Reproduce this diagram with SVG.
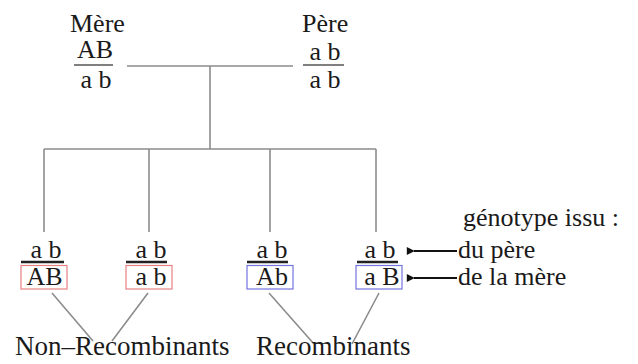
<svg xmlns="http://www.w3.org/2000/svg" width="638" height="364" viewBox="0 0 638 364">
<defs>
<style>
text{font-family:"Liberation Serif","Times New Roman",serif;font-size:26px;fill:#1a1a1a}
.c{text-anchor:middle}
.conn{stroke:#8c8c8c;stroke-width:1.6;fill:none}
.frac{stroke:#222;stroke-width:2.4}
.pfrac{stroke:#555;stroke-width:1.4}
.red{fill:none;stroke:#e88080;stroke-width:1.2}
.blue{fill:none;stroke:#7474e0;stroke-width:1.2}
.arr{stroke:#111;stroke-width:2}
</style>
<marker id="ah" viewBox="0 0 10 10" refX="1" refY="5" markerWidth="10" markerHeight="8" markerUnits="userSpaceOnUse" orient="auto-start-reverse">
<path d="M0,5 L10,0 L10,10 Z" fill="#111"/>
</marker>
</defs>
<g id="connectors">
<path class="conn" d="M127,66 H293 M210,66 V149 M44,149 H376 M44,149 V232 M149,149 V232 M270,149 V232 M376,149 V232"/>
<path class="conn" d="M52,293 L93,341 M148,293 L112,341 M269,293 L314,344 M379,293 L352,344"/>
<line class="arr" x1="457" y1="251" x2="414" y2="251" marker-end="url(#ah)"/>
<line class="arr" x1="457" y1="278" x2="414" y2="278" marker-end="url(#ah)"/>
</g>
<g id="mere">
<text x="70" y="32">Mère</text>
<text class="c" x="95" y="58">AB</text>
<line class="pfrac" x1="74" y1="65" x2="113" y2="65"/>
<text class="c" x="96" y="88">a b</text>
</g>
<g id="pere">
<text x="302" y="32">Père</text>
<text class="c" x="325" y="60">a b</text>
<line class="pfrac" x1="303" y1="65" x2="344" y2="65"/>
<text class="c" x="325" y="88">a b</text>
</g>
<g id="child1">
<text class="c" x="46" y="258">a b</text>
<line class="frac" x1="21" y1="262" x2="64" y2="262"/>
<rect class="red" x="21" y="265.5" width="46" height="23.5"/>
<text class="c" x="44.5" y="285">AB</text>
</g>
<g id="child2">
<text class="c" x="151" y="258">a b</text>
<line class="frac" x1="126" y1="262" x2="167" y2="262"/>
<rect class="red" x="126" y="265.5" width="46" height="23.5"/>
<text class="c" x="151" y="285">a b</text>
</g>
<g id="child3">
<text class="c" x="272" y="258">a b</text>
<line class="frac" x1="247" y1="262" x2="288" y2="262"/>
<rect class="blue" x="247" y="265.5" width="46" height="23.5"/>
<text class="c" x="272" y="285">Ab</text>
</g>
<g id="child4">
<text class="c" x="380" y="258">a b</text>
<line class="frac" x1="357" y1="262" x2="398" y2="262"/>
<rect class="blue" x="356" y="265.5" width="46" height="23.5"/>
<text class="c" x="382" y="285">a B</text>
</g>
<g id="legend">
<text x="463" y="226">génotype issu :</text>
<text x="458" y="258">du père</text>
<text x="458" y="285">de la mère</text>
</g>
<g id="labels">
<text x="15" y="355" style="font-size:27px">Non–Recombinants</text>
<text x="256" y="355" style="font-size:27px">Recombinants</text>
</g>
</svg>
